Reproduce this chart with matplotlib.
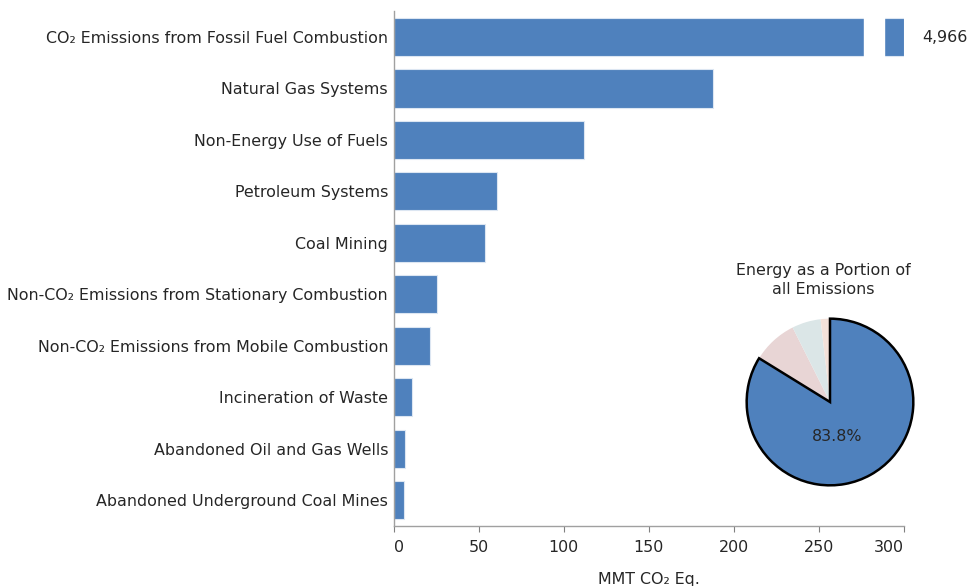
import matplotlib
matplotlib.use('Agg')
import matplotlib.pyplot as plt
from matplotlib.patches import Rectangle
from matplotlib.transforms import ScaledTranslation
import numpy as np

categories = [
    "CO\u2082 Emissions from Fossil Fuel Combustion",
    "Natural Gas Systems",
    "Non-Energy Use of Fuels",
    "Petroleum Systems",
    "Coal Mining",
    "Non-CO\u2082 Emissions from Stationary Combustion",
    "Non-CO\u2082 Emissions from Mobile Combustion",
    "Incineration of Waste",
    "Abandoned Oil and Gas Wells",
    "Abandoned Underground Coal Mines",
]
values = [4966, 188, 112, 61, 54, 25.6, 21.5, 10.9, 6.8, 6.0]
xticks = [0, 50, 100, 150, 200, 250, 300]
axis_max = 300
break_range = (276.5, 288)

pie_names = ["Energy", "Agriculture", "Industrial Processes", "Waste"]
pie_values = [83.8, 8.8, 5.6, 1.8]
pie_colors = ["#4F81BD", "#E8D5D5", "#DBE6E7", "#F3E1D9"]

bar_color = "#4F81BD"
text_color = "#262626"
fs = 11.4

fig = plt.figure(figsize=(9.68, 5.86), dpi=100)
ax = fig.add_axes([0.4066, 0.1029, 0.5273, 0.8778])

ypos = np.arange(len(categories))
shown = [min(v, axis_max) for v in values]
ax.barh(ypos, shown, height=0.74, color=bar_color, edgecolor="#DCE6F2", linewidth=0.8)

for y, v in zip(ypos, values):
    if v > axis_max:
        ax.add_patch(Rectangle((break_range[0], y - 0.45), break_range[1] - break_range[0], 0.9,
                               facecolor="white", edgecolor="white", zorder=3))
        ax.text(axis_max + 10.5, y, f"{v:,.0f}", va="center", ha="left", fontsize=fs,
                color=text_color, clip_on=False)

ax.set_xlim(0, axis_max)
ax.set_ylim(len(categories) - 0.5, -0.5)
ax.set_yticks(ypos)
yl = ax.set_yticklabels(categories, fontsize=fs, color=text_color)
shift = ScaledTranslation(0, -0.025, fig.dpi_scale_trans)
for t in yl:
    t.set_transform(t.get_transform() + shift)
ax.set_xticks(xticks)
xl = ax.set_xticklabels([str(t) for t in xticks], fontsize=fs, color=text_color)
xl[0].set_ha("left")
xl[-1].set_ha("right")
ax.tick_params(axis="y", length=0, pad=4)
ax.tick_params(axis="x", length=4, direction="out", color="#808080", pad=6.5)
for s in ["top", "right"]:
    ax.spines[s].set_visible(False)
for s in ["left", "bottom"]:
    ax.spines[s].set_color("#A0A0A0")
    ax.spines[s].set_linewidth(1.0)
ax.set_xlabel("MMT CO\u2082 Eq.", fontsize=fs, color=text_color, labelpad=12)

# pie inset
pax = fig.add_axes([745 / 968, (586 - 487) / 586, 170 / 968, 170 / 586])
wedges, _ = pax.pie(pie_values, colors=pie_colors, startangle=90, counterclock=False,
                    wedgeprops=dict(linewidth=0))
wedges[0].set_edgecolor("black")
wedges[0].set_linewidth(1.8)
wedges[0].set_zorder(5)
pax.set_xlim(-1.02, 1.02)
pax.set_ylim(-1.02, 1.02)
pax.set_aspect("equal")
pax.text(0.09, -0.41, f"{pie_values[0]:.1f}%", ha="center", va="center", fontsize=fs,
         color=text_color, zorder=10)
pax.text(0.46, 1.12, "Energy as a Portion of\nall Emissions", transform=pax.transAxes,
         ha="center", va="bottom", fontsize=fs, color=text_color, linespacing=1.3)

fig.savefig("out.png", dpi=100)
